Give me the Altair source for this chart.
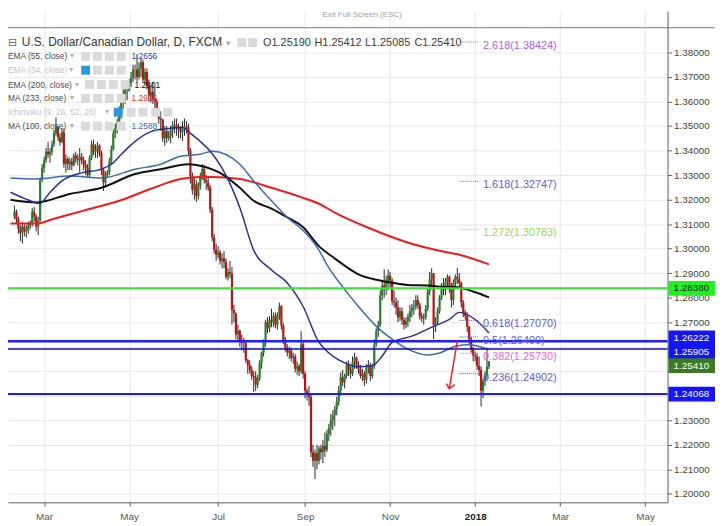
import altair as alt
import numpy as np
import pandas as pd

# ---------------- values ----------------
candle_first_day = "2017-02-08"
candle_last_day = "2018-01-10"
first_open = 1.3130
closes = [1.3150, 1.3120, 1.3080,
          1.3065, 1.3090, 1.3070, 1.3075, 1.3095,
          1.3100, 1.3150, 1.3130, 1.3090, 1.3115,
          1.3280, 1.3330, 1.3360, 1.3395, 1.3385,
          1.3395, 1.3425, 1.3470, 1.3495, 1.3455,
          1.3435, 1.3475, 1.3345, 1.3365, 1.3345,
          1.3355, 1.3340, 1.3380, 1.3365, 1.3360,
          1.3375, 1.3360, 1.3340, 1.3330, 1.3300,
          1.3370, 1.3425, 1.3395, 1.3405, 1.3420,
          1.3390, 1.3320, 1.3270, 1.3300, 1.3310,
          1.3355, 1.3405, 1.3470, 1.3490, 1.3515,
          1.3560, 1.3610, 1.3615, 1.3645, 1.3645,
          1.3675, 1.3700, 1.3730, 1.3730, 1.3700,
          1.3735, 1.3760, 1.3690, 1.3720, 1.3665,
          1.3625, 1.3640, 1.3610, 1.3600, 1.3560,
          1.3530, 1.3525, 1.3450, 1.3480, 1.3450,
          1.3460, 1.3485, 1.3505, 1.3505, 1.3495,
          1.3485, 1.3475, 1.3495, 1.3500, 1.3495,
          1.3400, 1.3295, 1.3240, 1.3265, 1.3215,
          1.3255, 1.3295, 1.3325, 1.3280, 1.3270,
          1.3250, 1.3160, 1.3045, 1.2995, 1.2975,
          1.2985, 1.2950, 1.2960, 1.2945, 1.2885,
          1.2905, 1.2900, 1.2750, 1.2735, 1.2650,
          1.2665, 1.2620, 1.2615, 1.2615, 1.2545,
          1.2525, 1.2505, 1.2480, 1.2475, 1.2445,
          1.2470, 1.2535, 1.2575, 1.2620, 1.2700,
          1.2675, 1.2710, 1.2700, 1.2725, 1.2690,
          1.2730, 1.2765, 1.2685, 1.2625, 1.2595,
          1.2575, 1.2585, 1.2555, 1.2560, 1.2510,
          1.2520, 1.2500, 1.2610, 1.2490, 1.2420,
          1.2410, 1.2395, 1.2170, 1.2135, 1.2165,
          1.2135, 1.2185, 1.2170, 1.2195, 1.2180,
          1.2245, 1.2270, 1.2300, 1.2320, 1.2345,
          1.2375, 1.2420, 1.2475, 1.2455, 1.2480,
          1.2525, 1.2505, 1.2490, 1.2540, 1.2555,
          1.2525, 1.2510, 1.2480, 1.2490, 1.2465,
          1.2515, 1.2525, 1.2480, 1.2520, 1.2610,
          1.2665, 1.2690, 1.2810, 1.2850, 1.2840,
          1.2865, 1.2890, 1.2870, 1.2785, 1.2780,
          1.2760, 1.2720, 1.2745, 1.2710, 1.2690,
          1.2705, 1.2720, 1.2745, 1.2760, 1.2765,
          1.2790, 1.2770, 1.2725, 1.2715, 1.2720,
          1.2755, 1.2825, 1.2875, 1.2900, 1.2690,
          1.2700, 1.2745, 1.2800, 1.2850, 1.2830,
          1.2865, 1.2885, 1.2845, 1.2790, 1.2860,
          1.2885, 1.2875, 1.2860, 1.2780, 1.2740,
          1.2725, 1.2680, 1.2630, 1.2590, 1.2565,
          1.2560, 1.2520, 1.2505, 1.2420, 1.2460,
          1.2480, 1.2519, 1.25410]
highs = [1.3175, 1.3160, 1.3130,
         1.3095, 1.3110, 1.3100, 1.3095, 1.3110,
         1.3115, 1.3165, 1.3170, 1.3140, 1.3130,
         1.3290, 1.3345, 1.3375, 1.3410, 1.3435,
         1.3410, 1.3440, 1.3485, 1.3535, 1.3500,
         1.3470, 1.3490, 1.3490, 1.3385, 1.3375,
         1.3370, 1.3370, 1.3390, 1.3395, 1.3385,
         1.3410, 1.3390, 1.3375, 1.3360, 1.3345,
         1.3380, 1.3440, 1.3445, 1.3425, 1.3435,
         1.3425, 1.3400, 1.3330, 1.3315, 1.3320,
         1.3370, 1.3420, 1.3490, 1.3510, 1.3530,
         1.3580, 1.3615, 1.3650, 1.3660, 1.3670,
         1.3690, 1.3720, 1.3750, 1.3750, 1.3793,
         1.3760, 1.3775, 1.3770, 1.3735, 1.3735,
         1.3690, 1.3665, 1.3680, 1.3660, 1.3610,
         1.3575, 1.3560, 1.3530, 1.3500, 1.3500,
         1.3480, 1.3500, 1.3520, 1.3530, 1.3530,
         1.3510, 1.3500, 1.3520, 1.3530, 1.3520,
         1.3510, 1.3410, 1.3310, 1.3290, 1.3280,
         1.3270, 1.3310, 1.3345, 1.3340, 1.3300,
         1.3290, 1.3260, 1.3170, 1.3060, 1.3020,
         1.3010, 1.2995, 1.2980, 1.2990, 1.2960,
         1.2920, 1.2950, 1.2925, 1.2770, 1.2740,
         1.2690, 1.2670, 1.2650, 1.2635, 1.2620,
         1.2550, 1.2545, 1.2520, 1.2500, 1.2500,
         1.2485, 1.2545, 1.2580, 1.2630, 1.2710,
         1.2720, 1.2725, 1.2755, 1.2740, 1.2740,
         1.2740, 1.2780, 1.2770, 1.2695, 1.2640,
         1.2610, 1.2600, 1.2595, 1.2575, 1.2570,
         1.2540, 1.2530, 1.2663, 1.2620, 1.2500,
         1.2430, 1.2440, 1.2405, 1.2200, 1.2180,
         1.2200, 1.2195, 1.2200, 1.2220, 1.2250,
         1.2260, 1.2285, 1.2325, 1.2340, 1.2360,
         1.2395, 1.2440, 1.2495, 1.2505, 1.2490,
         1.2540, 1.2545, 1.2520, 1.2560, 1.2575,
         1.2560, 1.2540, 1.2525, 1.2510, 1.2500,
         1.2530, 1.2545, 1.2535, 1.2530, 1.2630,
         1.2675, 1.2705, 1.2830, 1.2870, 1.2915,
         1.2890, 1.2915, 1.2905, 1.2880, 1.2830,
         1.2800, 1.2790, 1.2760, 1.2760, 1.2720,
         1.2720, 1.2735, 1.2770, 1.2775, 1.2790,
         1.2810, 1.2810, 1.2780, 1.2740, 1.2735,
         1.2770, 1.2840, 1.2905, 1.2920, 1.2900,
         1.2720, 1.2760, 1.2810, 1.2860, 1.2880,
         1.2880, 1.2895, 1.2890, 1.2860, 1.2875,
         1.2895, 1.2921, 1.2900, 1.2865, 1.2790,
         1.2750, 1.2740, 1.2685, 1.2640, 1.2600,
         1.2580, 1.2575, 1.2560, 1.2520, 1.2470,
         1.2500, 1.2595, 1.25412]
lows = [1.3120, 1.3100, 1.3060,
        1.3030, 1.3020, 1.3050, 1.3045, 1.3060,
        1.3080, 1.3090, 1.3110, 1.3070, 1.3055,
        1.3110, 1.3270, 1.3310, 1.3350, 1.3370,
        1.3350, 1.3380, 1.3415, 1.3460, 1.3440,
        1.3420, 1.3430, 1.3330, 1.3310, 1.3320,
        1.3320, 1.3320, 1.3335, 1.3350, 1.3340,
        1.3310, 1.3345, 1.3320, 1.3300, 1.3290,
        1.3290, 1.3360, 1.3380, 1.3370, 1.3370,
        1.3375, 1.3300, 1.3235, 1.3250, 1.3290,
        1.3300, 1.3340, 1.3400, 1.3450, 1.3470,
        1.3500, 1.3530, 1.3570, 1.3590, 1.3605,
        1.3640, 1.3660, 1.3680, 1.3690, 1.3680,
        1.3690, 1.3700, 1.3680, 1.3670, 1.3650,
        1.3600, 1.3595, 1.3590, 1.3560, 1.3540,
        1.3510, 1.3480, 1.3435, 1.3420, 1.3430,
        1.3440, 1.3430, 1.3450, 1.3470, 1.3460,
        1.3450, 1.3450, 1.3440, 1.3460, 1.3470,
        1.3380, 1.3265, 1.3220, 1.3200, 1.3190,
        1.3200, 1.3240, 1.3280, 1.3265, 1.3240,
        1.3235, 1.3145, 1.3030, 1.2980, 1.2950,
        1.2960, 1.2935, 1.2920, 1.2920, 1.2875,
        1.2870, 1.2880, 1.2690, 1.2700, 1.2630,
        1.2620, 1.2600, 1.2585, 1.2575, 1.2535,
        1.2490, 1.2490, 1.2465, 1.2415, 1.2420,
        1.2430, 1.2460, 1.2510, 1.2560, 1.2600,
        1.2655, 1.2660, 1.2680, 1.2680, 1.2675,
        1.2670, 1.2710, 1.2670, 1.2610, 1.2580,
        1.2560, 1.2550, 1.2540, 1.2530, 1.2495,
        1.2485, 1.2480, 1.2490, 1.2470, 1.2390,
        1.2380, 1.2360, 1.2150, 1.2110, 1.2061,
        1.2100, 1.2120, 1.2140, 1.2125, 1.2150,
        1.2170, 1.2215, 1.2235, 1.2260, 1.2275,
        1.2320, 1.2360, 1.2400, 1.2440, 1.2430,
        1.2470, 1.2480, 1.2470, 1.2480, 1.2510,
        1.2510, 1.2490, 1.2470, 1.2460, 1.2440,
        1.2450, 1.2490, 1.2460, 1.2470, 1.2510,
        1.2600, 1.2640, 1.2680, 1.2790, 1.2800,
        1.2810, 1.2830, 1.2840, 1.2770, 1.2760,
        1.2730, 1.2700, 1.2705, 1.2690, 1.2670,
        1.2675, 1.2680, 1.2700, 1.2720, 1.2730,
        1.2750, 1.2755, 1.2710, 1.2700, 1.2690,
        1.2710, 1.2745, 1.2810, 1.2845, 1.2631,
        1.2660, 1.2690, 1.2735, 1.2790, 1.2810,
        1.2810, 1.2840, 1.2820, 1.2760, 1.2770,
        1.2840, 1.2855, 1.2840, 1.2760, 1.2720,
        1.2710, 1.2660, 1.2610, 1.2575, 1.2540,
        1.2540, 1.2505, 1.2480, 1.2357, 1.2390,
        1.2440, 1.2465, 1.25085]

ema55_dates = ["2017-02-06", "2017-02-15", "2017-02-27", "2017-03-03", "2017-03-14", "2017-03-28",
               "2017-04-11", "2017-04-18", "2017-04-25", "2017-05-04", "2017-05-16", "2017-05-26",
               "2017-06-07", "2017-06-13", "2017-06-20", "2017-06-27", "2017-07-05", "2017-07-18",
               "2017-07-27", "2017-08-09", "2017-08-21", "2017-08-31", "2017-09-12", "2017-09-15",
               "2017-09-28", "2017-10-10", "2017-10-19", "2017-10-26", "2017-11-02", "2017-11-16",
               "2017-12-01", "2017-12-13", "2017-12-20", "2018-01-01", "2018-01-10"]
ema55_vals = [1.3230, 1.3205, 1.3184, 1.3220, 1.3276, 1.3309,
              1.3324, 1.3344, 1.3384, 1.3437, 1.3477, 1.3489,
              1.3494, 1.3470, 1.3437, 1.3397, 1.3328, 1.3167,
              1.2994, 1.2913, 1.2860, 1.2764, 1.2618, 1.2590,
              1.2538, 1.2518, 1.2522, 1.2562, 1.2618, 1.2643,
              1.2683, 1.2711, 1.2740, 1.2711, 1.2656]
ma100_dates = ["2017-02-06", "2017-02-23", "2017-03-20", "2017-04-11", "2017-05-04", "2017-05-23",
               "2017-06-06", "2017-06-20", "2017-06-28", "2017-07-18", "2017-07-27", "2017-08-09",
               "2017-08-21", "2017-08-31", "2017-09-12", "2017-09-18", "2017-09-28", "2017-10-10",
               "2017-10-23", "2017-11-02", "2017-11-14", "2017-11-28", "2017-12-06", "2017-12-18",
               "2017-12-27", "2018-01-10"]
ma100_vals = [1.3288, 1.3284, 1.3296, 1.3288, 1.3324, 1.3344,
              1.3377, 1.3385, 1.3397, 1.3344, 1.3276, 1.3195,
              1.3127, 1.3074, 1.2994, 1.2935, 1.2844, 1.2764,
              1.2683, 1.2631, 1.2590, 1.2566, 1.2574, 1.2602,
              1.2608, 1.2588]
ema200_dates = ["2017-02-06", "2017-02-23", "2017-03-20", "2017-04-11", "2017-05-04", "2017-05-23",
                "2017-06-12", "2017-06-21", "2017-07-05", "2017-07-18", "2017-07-27", "2017-08-09",
                "2017-08-21", "2017-08-31", "2017-09-12", "2017-09-22", "2017-10-02", "2017-10-10",
                "2017-10-23", "2017-11-02", "2017-11-14", "2017-11-28", "2017-12-06", "2017-12-18",
                "2017-12-29", "2018-01-10"]
ema200_vals = [1.3199, 1.3188, 1.3223, 1.3248, 1.3304, 1.3324,
               1.3344, 1.3336, 1.3304, 1.3248, 1.3195, 1.3163,
               1.3127, 1.3087, 1.3010, 1.2960, 1.2925, 1.2895,
               1.2873, 1.2861, 1.2852, 1.2850, 1.2845, 1.2843,
               1.2825, 1.2801]
ma233_dates = ["2017-02-06", "2017-02-23", "2017-03-08", "2017-03-29", "2017-04-24", "2017-05-16",
               "2017-06-06", "2017-06-20", "2017-06-28", "2017-07-18", "2017-08-09", "2017-08-31",
               "2017-09-12", "2017-09-22", "2017-10-17", "2017-11-15", "2017-12-11", "2017-12-21",
               "2018-01-10"]
ma233_vals = [1.3102, 1.3102, 1.3122, 1.3155, 1.3195, 1.3244,
              1.3284, 1.3292, 1.3292, 1.3284, 1.3248, 1.3207,
              1.3183, 1.3147, 1.3085, 1.3022, 1.2986, 1.2973,
              1.2936]

level_values = [1.28380, 1.26222, 1.25905, 1.24068]
box_values = [1.28380, 1.26222, 1.25905, 1.25410, 1.24068]
box_texts = ["1.28380", "1.26222", "1.25905", "1.25410", "1.24068"]

fib_names = ["2.618(1.38424)", "1.618(1.32747)", "1.272(1.30783)", "0.618(1.27070)",
             "0.5(1.26400)", "0.382(1.25730)", "0.236(1.24902)"]
fib_levels = [1.38424, 1.32747, 1.30783, 1.27070, 1.26400, 1.25730, 1.24902]
fib_line_from, fib_line_to, fib_text_at = "2017-12-20", "2018-01-03", "2018-01-05"

arrow_bars = [209.0, 204.9, 203.4, 204.9, 207.7]
arrow_prices = [1.2624, 1.2429, 1.2449, 1.2429, 1.2445]
arrow_part = ["shaft", "shaft", "head", "head", "head"]

month_starts = ["2017-03-01", "2017-05-01", "2017-07-01", "2017-09-01", "2017-11-01",
                "2018-01-01", "2018-03-01", "2018-05-01"]
month_names = ["Mar", "May", "Jul", "Sep", "Nov", "2018", "Mar", "May"]
price_ticks = [1.20, 1.21, 1.22, 1.23, 1.24, 1.25, 1.26, 1.27, 1.28, 1.29,
               1.30, 1.31, 1.32, 1.33, 1.34, 1.35, 1.36, 1.37, 1.38]
covered_ticks = ["1.24000", "1.25000", "1.26000"]   # hidden under the price boxes

title_text = "U.S. Dollar/Canadian Dollar, D, FXCM"
ohlc_texts = ["O1.25190", "H1.25412", "L1.25085", "C1.25410"]
study_names = ["EMA (55, close)", "EMA (34, close)", "EMA (200, close)", "MA (233, close)",
               "Ichimoku (9, 26, 52, 26)", "MA (100, close)"]
study_values = ["1.2656", "", "1.2801", "1.2936", "", "1.2588"]

# ---------------- layout & style ----------------
W, H = 667, 497
PX_PER_BAR = 2.03
BAR0_PX = 32
X_DOM = [-BAR0_PX / PX_PER_BAR, (W - BAR0_PX) / PX_PER_BAR]
Y_DOM = [1.19653, 1.39694]
UP, DOWN, WICK = "#2e7d2e", "#b81414", "#262626"
FONT = "Liberation Sans"


def bar_of(d):
    d = np.asarray(pd.to_datetime(d).values.astype("datetime64[D]"))
    return np.busday_count(np.datetime64("2017-03-01"), d).astype(int)


tick_bars = [int(b) for b in bar_of(month_starts)]
label_expr = " : ".join(f"datum.value == {b} ? '{n}'" for b, n in zip(tick_bars, month_names)) + " : ''"
bold_bar = tick_bars[month_names.index("2018")]
covered_list = "[" + ",".join(f"'{t}'" for t in covered_ticks) + "]"

xs = alt.Scale(domain=X_DOM, nice=False, zero=False)
ys = alt.Scale(domain=Y_DOM, nice=False, zero=False)
x_axis = alt.Axis(values=tick_bars, labelExpr=label_expr, grid=True, gridColor="#e8e8e8",
                  domainColor="#5c5c5c", tickColor="#5c5c5c", tickSize=4, labelPadding=5,
                  labelFontSize=10, labelFont=FONT, title=None, labelOverlap=False, labelFlush=False,
                  labelColor={"condition": {"test": f"datum.value == {bold_bar}", "value": "#222222"},
                              "value": "#555555"},
                  labelFontWeight={"condition": {"test": f"datum.value == {bold_bar}", "value": "bold"},
                                   "value": "normal"})
y_axis = alt.Axis(orient="right", values=price_ticks, format=".5f", grid=True, gridColor="#e8e8e8",
                  domainColor="#5c5c5c", tickColor="#5c5c5c", tickSize=4, labelPadding=2,
                  labelFontSize=10, labelFont=FONT, labelColor="#444444", title=None,
                  labelOverlap=False, labelFlush=False,
                  labelExpr=f"indexof({covered_list}, datum.label) >= 0 ? '' : datum.label")


def X(f):
    return alt.X(f, type="quantitative", scale=xs, axis=x_axis)


def Y(f):
    return alt.Y(f, type="quantitative", scale=ys, axis=y_axis)


def PX(f):
    return alt.X(f, type="quantitative", scale=None, axis=None)


def PY(f):
    return alt.Y(f, type="quantitative", scale=None, axis=None)


days = pd.bdate_range(candle_first_day, candle_last_day)
assert len(days) == len(closes) == len(highs) == len(lows)
opens = [first_open] + closes[:-1]
cd = pd.DataFrame({"bar": bar_of(days), "o": opens, "h": highs, "l": lows, "c": closes})
cd["col"] = np.where(cd["c"] >= cd["o"], UP, DOWN)
one = cd.head(1)

wicks = alt.Chart(cd).mark_rule(color=WICK, strokeWidth=1, clip=True).encode(
    x=X("bar"), y=Y("l"), y2="h:Q")
bodies = alt.Chart(cd).mark_bar(size=2.2, clip=True).encode(
    x=X("bar"), y=Y("o"), y2="c:Q", color=alt.Color("col:N", scale=None))

top_line = alt.Chart(one).mark_rule(color="#777777", strokeWidth=1).encode(
    x=alt.value(0), x2=alt.value(715), y=alt.value(17))


def ma_layer(dates, vals, color, width):
    df = pd.DataFrame({"bar": bar_of(dates), "v": vals})
    return alt.Chart(df).mark_line(color=color, strokeWidth=width, clip=True,
                                   interpolate="monotone").encode(x=X("bar"), y=Y("v"))


mas = [ma_layer(ma233_dates, ma233_vals, "#f01c1c", 2),
       ma_layer(ema200_dates, ema200_vals, "#111111", 2),
       ma_layer(ma100_dates, ma100_vals, "#3d6ab8", 1.5),
       ma_layer(ema55_dates, ema55_vals, "#2c2c96", 1.5)]

lv = pd.DataFrame({"v": level_values, "col": ["#2ee62e", "#1c1cff", "#0c0cc8", "#1c1cff"],
                   "w": [2, 2.5, 1.5, 2]})
levels = alt.Chart(lv).mark_rule().encode(
    y=Y("v"), color=alt.Color("col:N", scale=None), strokeWidth=alt.StrokeWidth("w:Q", scale=None))

fib_cols = ["#b05be6", "#5c5cf0", "#a6d04c", "#5a5ae8", "#5a5ae8", "#f25cf2", "#5a5ae8"]
fd = pd.DataFrame({"t": fib_names, "v": fib_levels, "col": fib_cols,
                   "b0": int(bar_of([fib_line_from])[0]), "b1": int(bar_of([fib_line_to])[0]),
                   "bt": int(bar_of([fib_text_at])[0])})
fib_lines = alt.Chart(fd).mark_rule(strokeDash=[1, 1], strokeWidth=1).encode(
    x=X("b0"), x2="b1:Q", y=Y("v"), color=alt.Color("col:N", scale=None))
fib_text = alt.Chart(fd).mark_text(align="left", baseline="middle", dy=4, fontSize=11, font=FONT).encode(
    x=X("bt"), y=Y("v"), text="t:N", color=alt.Color("col:N", scale=None))

ad = pd.DataFrame({"bar": arrow_bars, "v": arrow_prices, "part": arrow_part, "k": range(len(arrow_bars))})
arrow = alt.Chart(ad).mark_line(color="#f02020", strokeWidth=1.5).encode(
    x=X("bar"), y=Y("v"), detail="part:N", order="k:Q")

# header / study legend (pixel layout)
row_y = [46, 60, 74.5, 88.5, 102.5, 116.5]
name_cols = ["#4a4a4a", "#c4c4c4", "#4a4a4a", "#4a4a4a", "#c4c4c4", "#4a4a4a"]
val_cols = ["#3535aa", "#000000", "#111111", "#ff1a1a", "#000000", "#3f62b5"]
val_x = [125, 0, 128, 125, 0, 125]
caret_x = [63, 62, 68, 63, 98, 63]
txt_rows = [dict(px=14, py=32, t=title_text, c="#333333", s=12),
            dict(px=220, py=32, t="▾", c="#aaaaaa", s=9)]
for x0, t in zip([258, 310, 361, 411], ohlc_texts):
    txt_rows.append(dict(px=x0, py=32, t=t, c="#3a3a3a", s=11))
box_rows = [dict(x=232, y=32, c="#d9d9d9"), dict(x=243, y=32, c="#d9d9d9")]
for i, (n, v) in enumerate(zip(study_names, study_values)):
    txt_rows.append(dict(px=0, py=row_y[i], t=n, c=name_cols[i], s=8.5))
    txt_rows.append(dict(px=caret_x[i], py=row_y[i], t="▾", c="#b0b0b0", s=8))
    if v:
        txt_rows.append(dict(px=val_x[i], py=row_y[i], t=v, c=val_cols[i], s=8.5))
    if i == 4:
        xs_box = [107, 120, 132, 145, 157]
    elif i == 2:
        xs_box = [78, 90, 102, 114]
    else:
        xs_box = [74, 86, 98, 110]
    for j, bx in enumerate(xs_box):
        c = "#2c98da" if (j == 0 and i in (1, 4)) else "#dadada"
        box_rows.append(dict(x=bx, y=row_y[i], c=c))
hdr_t = pd.DataFrame(txt_rows)
hdr_b = pd.DataFrame(box_rows)
hdr_b["x2"] = hdr_b["x"] + 9
hdr_b["y1"] = hdr_b["y"] - 4.5
hdr_b["y2"] = hdr_b["y"] + 4.5
header_text = alt.Chart(hdr_t).mark_text(align="left", baseline="middle", font=FONT).encode(
    x=PX("px"), y=PY("py"), text="t:N",
    color=alt.Color("c:N", scale=None), size=alt.Size("s:Q", scale=None))
header_boxes = alt.Chart(hdr_b).mark_rect().encode(
    x=PX("x"), x2="x2:Q", y=PY("y1"), y2="y2:Q", color=alt.Color("c:N", scale=None))
collapse_icon = alt.Chart(one).mark_text(text="⊟", font="DejaVu Sans", fontSize=11,
                                          color="#666666", align="left", baseline="middle").encode(
    x=alt.value(0), y=alt.value(32))
exit_text = alt.Chart(one).mark_text(text="Exit Full Screen (ESC)", fontSize=8, font=FONT,
                                      color="#a0a0a0", align="center", baseline="top").encode(
    x=alt.value(358), y=alt.value(0))

# price label boxes on the right axis
box_fill = ["#1ff01f", "#1414f5", "#1414f0", "#3c7a24", "#1414f5"]
box_txt = ["#1a1a1a", "#ffffff", "#ffffff", "#ffffff", "#ffffff"]
box_shift = [0, -3.5, 3.5, 4.5, 0]
price_boxes = []
for v, t, f, tc, sh in zip(box_values, box_texts, box_fill, box_txt, box_shift):
    d = pd.DataFrame({"v": [v], "t": [t]})
    price_boxes.append(alt.Chart(d).mark_rect(color=f, yOffset=sh - 7.5, y2Offset=sh + 7.5).encode(
        x=alt.value(668), x2=alt.value(715), y=Y("v"), y2="v:Q"))
    price_boxes.append(alt.Chart(d).mark_text(color=tc, align="left", baseline="middle", fontSize=10,
                                              font=FONT, dy=sh).encode(
        x=alt.value(673), y=Y("v"), text="t:N"))

chart = alt.layer(wicks, bodies, *mas, levels, top_line, fib_lines, fib_text, arrow,
                  header_boxes, header_text, collapse_icon, exit_text, *price_boxes).properties(
    width=W, height=H, autosize=alt.AutoSizeParams(type="none"),
    padding={"left": 0, "top": 0, "right": 48, "bottom": 21},
).configure(font=FONT, background="white").configure_view(stroke=None)

chart.save("out.html", embed_options={"renderer": "svg", "actions": False})
